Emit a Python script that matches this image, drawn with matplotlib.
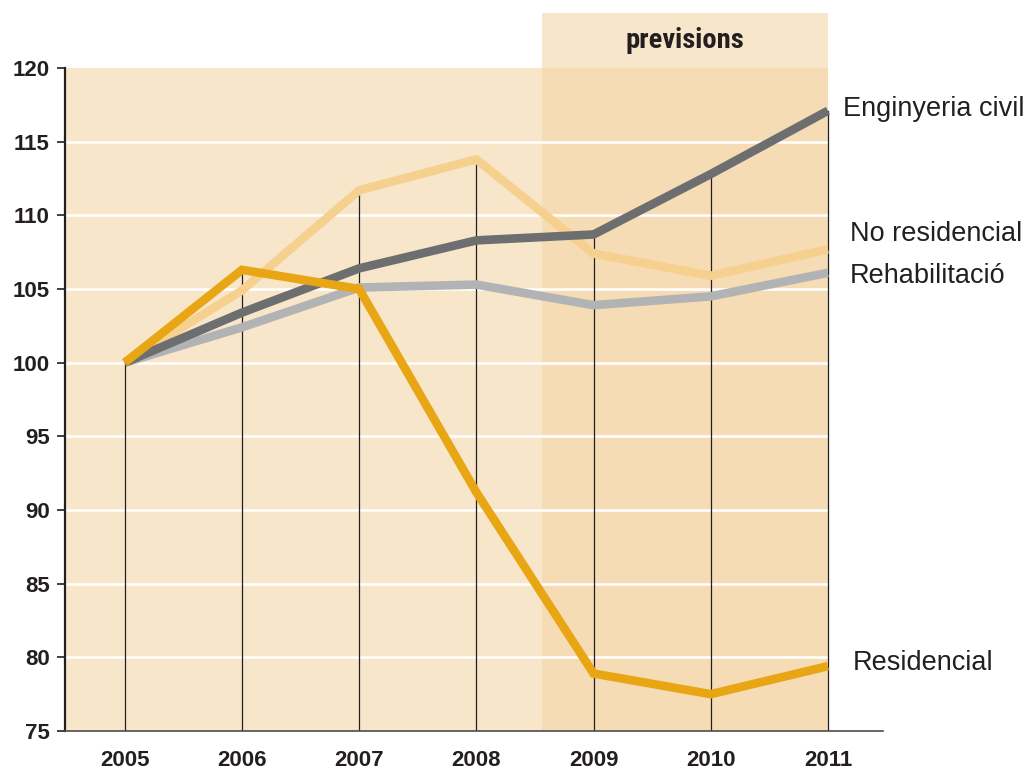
import matplotlib
matplotlib.use("Agg")
import matplotlib.pyplot as plt
from matplotlib.patches import Rectangle

years = [2005, 2006, 2007, 2008, 2009, 2010, 2011]
enginyeria_civil = [100, 103.4, 106.4, 108.3, 108.7, 112.8, 117.1]
no_residencial = [100, 104.9, 111.7, 113.8, 107.4, 105.9, 107.7]
rehabilitacio = [100, 102.4, 105.1, 105.3, 103.9, 104.5, 106.1]
residencial = [100, 106.3, 105.0, 91.2, 78.9, 77.5, 79.4]
yticks = [75, 80, 85, 90, 95, 100, 105, 110, 115, 120]
forecast_start = 2008.56

plt.rcParams['font.family'] = ['Liberation Sans', 'DejaVu Sans']

fig = plt.figure(figsize=(10.27, 7.71), dpi=100)
ax = fig.add_axes([0.0633, 0.0519, 0.7965, 0.8599])

xmin, xmax = 2004.49, 2011.47
ax.set_xlim(xmin, xmax)
ax.set_ylim(75, 120)

light = '#F7E6C9'
dark = '#F5DCB4'
ax.add_patch(Rectangle((xmin, 75), years[-1] - xmin, 45, facecolor=light, edgecolor='none', zorder=0))
ax.add_patch(Rectangle((forecast_start, 75), years[-1] - forecast_start, 45, facecolor=dark, edgecolor='none', zorder=0.5))
ax.add_patch(Rectangle((forecast_start, 120), years[-1] - forecast_start, 3.73, facecolor=light,
                       edgecolor='none', zorder=0, clip_on=False))
ax.text((forecast_start + years[-1]) / 2, 121.85, 'previsions', ha='center', va='center',
        fontsize=20.5, fontweight='bold', color='#231F20',
        family=['Roboto Condensed', 'Liberation Sans Narrow', 'Liberation Sans', 'DejaVu Sans'])

for yv in yticks[1:-1]:
    ax.plot([xmin, years[-1]], [yv, yv], color='white', lw=1.8, zorder=1)

series = [no_residencial, rehabilitacio, enginyeria_civil, residencial]
for i, yr in enumerate(years):
    top = max(s[i] for s in series)
    ax.plot([yr, yr], [75, top], color='#231F20', lw=0.9, zorder=2)

colors = ['#F5D08F', '#B1B3B5', '#6D6E70', '#E8A615']
for s, c in zip(series, colors):
    ax.plot(years, s, color=c, lw=6.2, zorder=3, solid_joinstyle='miter', solid_capstyle='butt')

labels = [('Enginyeria civil', enginyeria_civil[-1] + 0.1, 2011.13),
          ('No residencial', 108.7, 2011.19),
          ('Rehabilitació', 105.85, 2011.19),
          ('Residencial', 79.6, 2011.21)]
for t, yv, xv in labels:
    ax.text(xv, yv, t, fontsize=19.5, color='#231F20', va='center', ha='left', clip_on=False)

for sp in ['top', 'right']:
    ax.spines[sp].set_visible(False)
ax.spines['left'].set_color('#231F20')
ax.spines['left'].set_linewidth(1.6)
ax.spines['bottom'].set_color('#4D4D4D')
ax.spines['bottom'].set_linewidth(1.2)

ax.set_yticks(yticks)
ax.set_yticklabels([str(v) for v in yticks], fontsize=16, fontweight='bold', color='#231F20')
ax.tick_params(axis='y', length=6, width=1.2, color='#231F20', pad=5)
ax.set_xticks(years)
ax.set_xticklabels([str(v) for v in years], fontsize=16, fontweight='bold', color='#231F20')
ax.tick_params(axis='x', length=0, pad=14)

fig.savefig('out.png', dpi=100)
